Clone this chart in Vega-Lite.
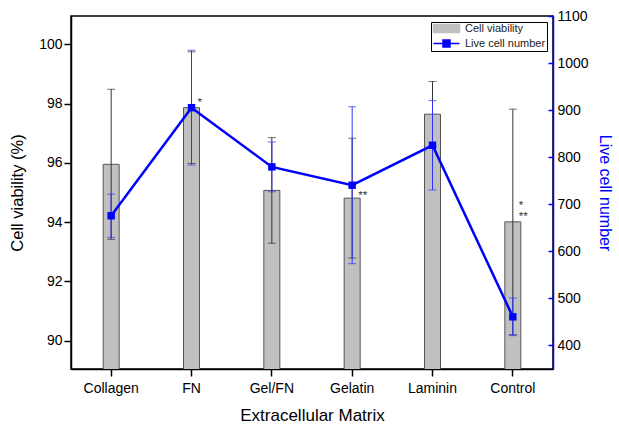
{
  "$schema": "https://vega.github.io/schema/vega-lite/v6.json",
  "width": 482,
  "height": 353,
  "autosize": {"type": "none"},
  "padding": {"left": 71, "top": 16, "right": 66, "bottom": 56},
  "background": "white",
  "config": {
    "font": "Liberation Sans",
    "view": {"stroke": "black", "strokeWidth": 1.5},
    "axis": {
      "grid": false,
      "labelFont": "Liberation Sans",
      "titleFont": "Liberation Sans",
      "titleFontWeight": "normal",
      "labelColor": "black",
      "titleColor": "black",
      "domainColor": "black",
      "tickColor": "black",
      "labelFontSize": 14,
      "domainWidth": 1.5,
      "tickWidth": 1.5
    }
  },
  "datasets": {
    "main": [
      {"matrix": "Collagen", "viability": 95.95, "viabilityErr": 2.53, "live": 675, "liveErr": 46},
      {"matrix": "FN", "viability": 97.86, "viabilityErr": 1.88, "live": 905, "liveErr": 122},
      {"matrix": "Gel/FN", "viability": 95.07, "viabilityErr": 1.78, "live": 779, "liveErr": 53},
      {"matrix": "Gelatin", "viability": 94.81, "viabilityErr": 2.02, "live": 740, "liveErr": 167},
      {"matrix": "Laminin", "viability": 97.64, "viabilityErr": 1.1, "live": 825, "liveErr": 95},
      {"matrix": "Control", "viability": 94.01, "viabilityErr": 3.8, "live": 460, "liveErr": 40}
    ],
    "notes": [
      {"matrix": "FN", "note": "*", "viability": 98.14},
      {"matrix": "Gelatin", "note": "**", "viability": 94.99},
      {"matrix": "Control", "note": "*\n**", "viability": 94.65}
    ]
  },
  "data": {"name": "main"},
  "layer": [
    {
      "layer": [
        {
          "mark": {"type": "bar", "width": 16, "clip": true},
          "encoding": {
            "x": {
              "field": "matrix",
              "type": "nominal",
              "scale": {"domain": ["Collagen", "FN", "Gel/FN", "Gelatin", "Laminin", "Control"], "paddingInner": 0, "paddingOuter": 0},
              "axis": {"title": "Extracellular Matrix", "labelAngle": 0, "tickSize": 7, "labelPadding": 5, "titleFontSize": 17, "titlePadding": 12}
            },
            "y": {
              "field": "viability",
              "type": "quantitative",
              "title": "Cell viability (%)",
              "scale": {"domain": [89.05, 100.95], "nice": false, "zero": false},
              "axis": {"values": [90, 92, 94, 96, 98, 100], "tickSize": 7, "labelPadding": 2, "titleFontSize": 16.5, "titlePadding": 13}
            },
            "color": {
              "datum": "Cell viability",
              "scale": {"domain": ["Cell viability", "Live cell number"], "range": ["#c0c0c0", "#0000ff"]},
              "legend": {
                "title": null,
                "orient": "top-right",
                "offset": 6,
                "padding": 1,
                "strokeColor": "black",
                "fillColor": "white",
                "labelFont": "Liberation Sans",
                "labelFontSize": 11,
                "labelColor": "#222222",
                "symbolSize": 64,
                "rowPadding": 1,
                "labelOffset": 22,
                "symbolOpacity": 1,
                "symbolType": {"expr": "datum.value === 'Cell viability' ? 'M-1,-1H5.5V1H-1Z' : 'M-1,0H5.5M1.375,-0.875H3.125V0.875H1.375Z'"},
                "symbolStrokeColor": {"expr": "datum.value === 'Cell viability' ? '#555555' : '#0000ff'"},
                "symbolStrokeWidth": 1.5
              }
            }
          }
        },
        {
          "mark": {"type": "bar", "width": 16, "clip": true, "fillOpacity": 0, "stroke": "#555555", "strokeWidth": 1},
          "encoding": {
            "x": {"field": "matrix", "type": "nominal"},
            "y": {"field": "viability", "type": "quantitative", "title": "Cell viability (%)"}
          }
        },
        {
          "mark": {"type": "errorbar", "color": "#333333", "ticks": {"size": 8}, "thickness": 1},
          "encoding": {
            "x": {"field": "matrix", "type": "nominal"},
            "y": {"field": "viability", "type": "quantitative", "title": "Cell viability (%)"},
            "yError": {"field": "viabilityErr"}
          }
        },
        {
          "data": {"name": "notes"},
          "mark": {"type": "text", "align": "left", "baseline": "alphabetic", "dx": 6, "dy": 6.5, "fontSize": 11.5, "lineBreak": "\n", "lineHeight": 11, "color": "#333333"},
          "encoding": {
            "x": {"field": "matrix", "type": "nominal"},
            "y": {"field": "viability", "type": "quantitative", "title": "Cell viability (%)"},
            "text": {"field": "note"}
          }
        }
      ]
    },
    {
      "layer": [
        {
          "mark": {"type": "errorbar", "color": "#2f2fff", "ticks": {"size": 8}, "thickness": 1},
          "encoding": {
            "x": {"field": "matrix", "type": "nominal"},
            "y": {"field": "live", "type": "quantitative", "title": "Live cell number"},
            "yError": {"field": "liveErr"}
          }
        },
        {
          "mark": {"type": "line", "strokeWidth": 2.5},
          "encoding": {
            "x": {"field": "matrix", "type": "nominal"},
            "y": {
              "field": "live",
              "type": "quantitative",
              "title": "Live cell number",
              "scale": {"domain": [349, 1100], "nice": false, "zero": false},
              "axis": {
                "orient": "right",
                "format": "d",
                "values": [400, 500, 600, 700, 800, 900, 1000, 1100],
                "domainColor": "#0000ff",
                "tickColor": "#0000ff",
                "tickSize": -5,
                "labelPadding": 9,
                "titleColor": "#0000ff",
                "titleFontSize": 16,
                "titlePadding": 8
              }
            },
            "color": {"datum": "Live cell number"}
          }
        },
        {
          "mark": {"type": "point", "shape": "square", "filled": true, "size": 55, "color": "#0000ff", "opacity": 1},
          "encoding": {
            "x": {"field": "matrix", "type": "nominal"},
            "y": {"field": "live", "type": "quantitative", "title": "Live cell number"}
          }
        }
      ]
    }
  ],
  "resolve": {"scale": {"y": "independent"}}
}
